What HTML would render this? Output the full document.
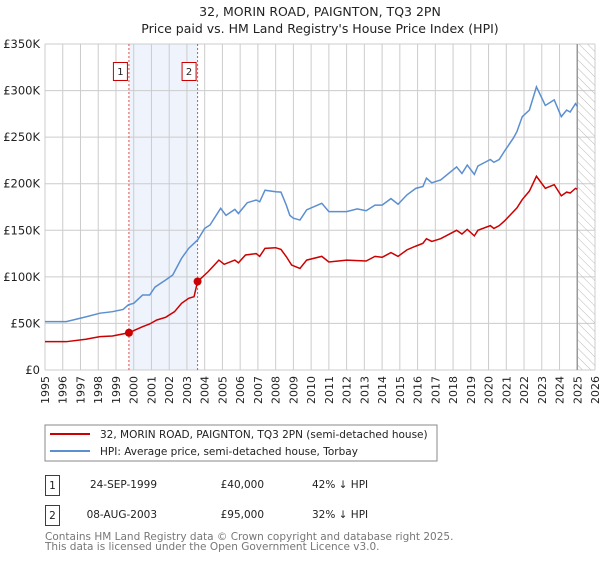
<!DOCTYPE html>
<html><head><meta charset="utf-8"><style>
body{margin:0;background:#fff;}
svg text{font-family:"DejaVu Sans","Liberation Sans",sans-serif;}
</style></head><body>
<svg id="chart" width="600" height="560" viewBox="0 0 600 560" xmlns="http://www.w3.org/2000/svg">
<text x="320" y="16" text-anchor="middle" font-size="12.5" fill="#222">32, MORIN ROAD, PAIGNTON, TQ3 2PN</text>
<text x="320" y="33" text-anchor="middle" font-size="12.5" fill="#222">Price paid vs. HM Land Registry's House Price Index (HPI)</text>
<defs><pattern id="hatch" width="6" height="6" patternUnits="userSpaceOnUse" patternTransform="rotate(-45)"><line x1="0" y1="0" x2="0" y2="6" stroke="#bbb" stroke-width="1"/></pattern></defs>
<g id="grid"></g><g id="marks"></g><g id="axes"></g>
<rect x="45" y="425" width="392" height="36" fill="#fff" stroke="#888"/>
<line x1="50" y1="434" x2="90" y2="434" stroke="#cc0000" stroke-width="2"/>
<text x="100" y="438" font-size="10.5" fill="#222">32, MORIN ROAD, PAIGNTON, TQ3 2PN (semi-detached house)</text>
<line x1="50" y1="451" x2="90" y2="451" stroke="#5b8fd0" stroke-width="2"/>
<text x="100" y="455" font-size="10.5" fill="#222">HPI: Average price, semi-detached house, Torbay</text>
<g>
<rect x="45.5" y="475.5" width="14" height="20" fill="#fff" stroke="#cc0000"/>
<text x="52.5" y="489" text-anchor="middle" font-size="10.5" fill="#222">1</text>
<text x="157" y="488" text-anchor="end" font-size="10.5" fill="#222">24-SEP-1999</text>
<text x="264" y="488" text-anchor="end" font-size="10.5" fill="#222">£40,000</text>
<text x="312" y="488" font-size="10.5" fill="#222">42% ↓ HPI</text></g>
<g>
<rect x="45.5" y="505.5" width="14" height="20" fill="#fff" stroke="#cc0000"/>
<text x="52.5" y="519" text-anchor="middle" font-size="10.5" fill="#222">2</text>
<text x="157" y="518" text-anchor="end" font-size="10.5" fill="#222">08-AUG-2003</text>
<text x="264" y="518" text-anchor="end" font-size="10.5" fill="#222">£95,000</text>
<text x="312" y="518" font-size="10.5" fill="#222">32% ↓ HPI</text></g>
<text x="45" y="540" font-size="10.5" fill="#777">Contains HM Land Registry data © Crown copyright and database right 2025.</text>
<text x="45" y="550" font-size="10.5" fill="#777">This data is licensed under the Open Government Licence v3.0.</text>
</svg>
<script>
const yearTicks=[1995,1996,1997,1998,1999,2000,2001,2002,2003,2004,2005,2006,2007,2008,2009,2010,2011,2012,2013,2014,2015,2016,2017,2018,2019,2020,2021,2022,2023,2024,2025,2026];
const valueTicks=[0,50,100,150,200,250,300,350];
const valueTickLabels=["£0","£50K","£100K","£150K","£200K","£250K","£300K","£350K"];
const hpiYears=[1995.0,1996.2,1997.3,1998.1,1998.8,1999.4,1999.7,2000,2000.5,2000.9,2001.2,2001.8,2002.2,2002.7,2003.1,2003.6,2004,2004.3,2004.9,2005.2,2005.7,2005.9,2006.4,2006.9,2007.1,2007.4,2008,2008.3,2008.6,2008.8,2009.0,2009.37,2009.75,2010.6,2011,2012,2012.6,2013.1,2013.6,2014,2014.5,2014.9,2015.4,2015.9,2016.3,2016.5,2016.8,2017.3,2018.2,2018.5,2018.8,2019.2,2019.4,2020.1,2020.3,2020.6,2020.9,2021.4,2021.6,2021.9,2022.3,2022.7,2023.2,2023.7,2024.1,2024.4,2024.6,2024.9,2025.0];
const hpiValues=[52,52,57,61,62.6,65,70,71.6,80.5,80.5,89,96.6,102,120,130.6,139.6,152,155.7,173.6,166,172.5,168,179.6,182.5,180.6,193,191.4,191,177,166,163,161,172,179,170,170,173,171,177,177,184,178,188,195,197,206,201,204,218,211,220,210,219,226,223,226,235,249,256,272,279,304,284,290,272,279,277,286,283];
const priceYears=[1995.0,1996.2,1997.3,1998.1,1998.8,1999.73,2000.5,2000.9,2001.3,2001.8,2002.3,2002.7,2003.1,2003.4,2003.6,2004.2,2004.8,2005.1,2005.7,2005.9,2006.3,2006.9,2007.1,2007.4,2008,2008.3,2008.6,2008.9,2009.37,2009.75,2010.6,2011,2012,2013.1,2013.6,2014,2014.5,2014.9,2015.4,2015.9,2016.3,2016.5,2016.8,2017.3,2018.2,2018.5,2018.8,2019.2,2019.4,2020.1,2020.3,2020.6,2020.9,2021.6,2021.9,2022.3,2022.7,2023.2,2023.7,2024.1,2024.4,2024.6,2024.9,2025.0];
const priceValues=[30.4,30.4,33,35.8,36.5,40,46.5,49.4,53.7,56.6,62.6,71.6,77,78.7,95,105.6,118,113.5,118,115,123.5,125,122,130.6,131.3,129.5,121.7,112.7,109,118,122,116,118,117,122,121,126,122,129,133,136,141,138,141,150,146,151,144,150,155,152,155,160,174,183,192,208,195,199,187,191,190,195,194];
const saleYears=[1999.73,2003.6];
const saleValues=[40,95];
const saleLabels=["1","2"];
const dataEnd=2025.0;

const NS="http://www.w3.org/2000/svg";
const X0=45,X1=595,Y0=370,Y1=44;
const xs=y=>X0+(y-1995)/(2026-1995)*(X1-X0);
const ys=v=>Y0-v/350*(Y0-Y1);
function mk(tag,attrs,parent){const e=document.createElementNS(NS,tag);for(const k in attrs)e.setAttribute(k,attrs[k]);parent.appendChild(e);return e;}
const grid=document.getElementById('grid'),marks=document.getElementById('marks'),axes=document.getElementById('axes');
let sh=mk('rect',{x:xs(saleYears[0]),y:Y1,width:xs(saleYears[1])-xs(saleYears[0]),height:Y0-Y1,fill:'#eef3fc'},grid);


yearTicks.forEach(t=>{const l=mk('line',{x1:xs(t),x2:xs(t),y1:Y1,y2:Y0,stroke:'#ccc'},grid);


const tx=mk('text',{x:0,y:0,'font-size':'11',fill:'#222','text-anchor':'end',transform:`translate(${xs(t)+4},${Y0+6}) rotate(-90)`},axes);tx.textContent=t;

});
valueTicks.forEach((v,i)=>{const l=mk('line',{x1:X0,x2:X1,y1:ys(v),y2:ys(v),stroke:'#ccc'},grid);


const tx=mk('text',{x:X0-5,y:ys(v)+4,'font-size':'11.5',fill:'#222','text-anchor':'end'},axes);tx.textContent=valueTickLabels[i];

});
const hx=mk('rect',{x:xs(dataEnd),y:Y1,width:X1-xs(dataEnd),height:Y0-Y1,fill:'url(#hatch)'},grid);


const el=mk('line',{x1:xs(dataEnd),x2:xs(dataEnd),y1:Y1,y2:Y0,stroke:'#999','stroke-width':1.5},grid);


saleYears.forEach((s,i)=>{const l=mk('line',{x1:xs(s),x2:xs(s),y1:Y1,y2:Y0,stroke:'#e05050','stroke-dasharray':'2,2'},marks);


const b=mk('rect',{x:xs(s)-15.5,y:62.5,width:14,height:18,fill:'#fff',stroke:'#cc0000'},marks);


const t=mk('text',{x:xs(s)-8.5,y:75,'font-size':'10','text-anchor':'middle',fill:'#222'},marks);t.textContent=saleLabels[i];

});
const hp=mk('polyline',{points:hpiYears.map((y,i)=>xs(y)+','+ys(hpiValues[i])).join(' '),fill:'none',stroke:'#5b8fd0','stroke-width':1.5},marks);


const pp=mk('polyline',{points:priceYears.map((y,i)=>xs(y)+','+ys(priceValues[i])).join(' '),fill:'none',stroke:'#cc0000','stroke-width':1.5},marks);


saleYears.forEach((s,i)=>{const c=mk('circle',{cx:xs(s),cy:ys(saleValues[i]),r:4,fill:'#cc0000'},marks);

});
</script>
</body></html>
